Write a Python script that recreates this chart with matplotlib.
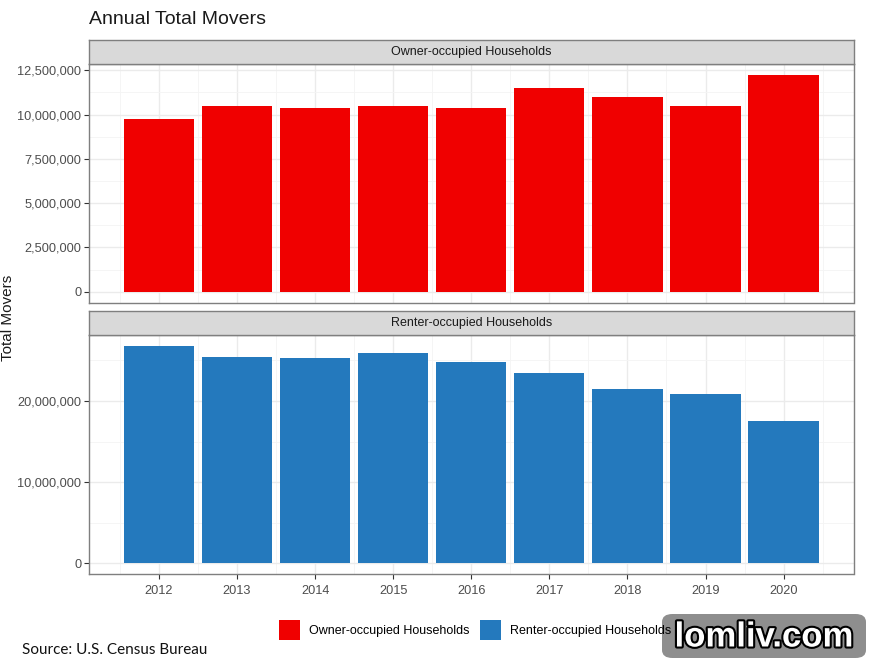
import numpy as np
import matplotlib.pyplot as plt
import matplotlib.patheffects as pe
from matplotlib.patches import Patch, FancyBboxPatch
from matplotlib.ticker import FuncFormatter, MultipleLocator

# data
years = [2012, 2013, 2014, 2015, 2016, 2017, 2018, 2019, 2020]
owner = [9750000, 10480000, 10350000, 10480000, 10350000, 11510000, 10970000, 10480000, 12240000]
renter = [26740000, 25420000, 25300000, 25840000, 24770000, 23410000, 21440000, 20860000, 17500000]
panel_titles = ["Owner-occupied Households", "Renter-occupied Households"]

red = "#F00000"
blue = "#2479BD"
grid_c = "#EBEBEB"
border_c = "#7F7F7F"
text_c = "#4D4D4D"

W, H = 872, 662
fig = plt.figure(figsize=(W / 100, H / 100), dpi=100)
plt.rcParams['font.family'] = ['Liberation Sans', 'DejaVu Sans']


def px_axes(x0, y0, x1, y1):
    # pixel box (top-left origin) -> figure axes
    return fig.add_axes([x0 / W, (H - y1) / H, (x1 - x0) / W, (y1 - y0) / H])


def strip(y0, y1, label):
    s = px_axes(89, y0, 853.5, y1)
    s.set_facecolor("#D9D9D9")
    s.set_xticks([])
    s.set_yticks([])
    for sp in s.spines.values():
        sp.set_color(border_c)
        sp.set_linewidth(1.0)
    s.text(0.5, 0.5, label, ha="center", va="center", fontsize=9, color="#1A1A1A",
           transform=s.transAxes)


def style_panel(ax, vals, major, minor, show_x):
    lo, hi = 0, max(vals)
    pad = 0.05 * (hi - lo)
    ax.set_ylim(lo - pad, hi + pad)
    ax.set_xlim(2011.55 - 0.445, 2020.45 + 0.445)
    ax.yaxis.set_major_locator(MultipleLocator(major))
    ax.yaxis.set_minor_locator(MultipleLocator(minor))
    ax.set_xticks(years)
    ax.xaxis.set_minor_locator(MultipleLocator(0.5))
    ax.yaxis.set_major_formatter(FuncFormatter(lambda v, p: f"{int(round(v)):,}"))
    ax.grid(which="major", color=grid_c, linewidth=1.0)
    ax.grid(which="minor", color="#F4F4F4", linewidth=0.6)
    ax.set_axisbelow(True)
    for sp in ax.spines.values():
        sp.set_color(border_c)
        sp.set_linewidth(1.0)
    ax.tick_params(axis="both", which="major", length=3.5, color="#333333",
                   labelsize=9.2, labelcolor=text_c, pad=2)
    ax.tick_params(axis="x", which="major", pad=4)
    ax.tick_params(axis="both", which="minor", length=0)
    if show_x:
        ax.set_xticklabels([str(y) for y in years])
    else:
        ax.tick_params(axis="x", which="major", length=0, labelbottom=False)


ax1 = px_axes(89, 64, 853.5, 302.5)
ax1.bar(years, owner, width=0.9, color=red)
style_panel(ax1, owner, 2500000, 1250000, False)
strip(40, 64, panel_titles[0])

ax2 = px_axes(89, 335.3, 853.5, 574.3)
ax2.bar(years, renter, width=0.9, color=blue)
style_panel(ax2, renter, 10000000, 5000000, True)
strip(311.5, 335.3, panel_titles[1])

fig.text(89 / W, 1 - 20 / H, "Annual Total Movers", fontsize=14, color="#1A1A1A",
         ha="left", va="center")
fig.text(8 / W, 1 - 318 / H, "Total Movers", fontsize=11, rotation=90,
         ha="center", va="center", color="#1A1A1A")

handles = [Patch(facecolor=red, label=panel_titles[0]),
           Patch(facecolor=blue, label=panel_titles[1])]
fig.legend(handles=handles, loc="center", bbox_to_anchor=(475 / W, 1 - 630 / H),
           ncol=2, frameon=False, fontsize=9, handlelength=1.7, handleheight=2.0,
           handletextpad=0.7, columnspacing=0.8)

fig.text(22 / W, 1 - 650 / H, "Source: U.S. Census Bureau", fontsize=11,
         family=["Lato", "DejaVu Sans"], ha="left", va="center", color="#111111")

# watermark box
fig.patches.append(FancyBboxPatch((662 / W, 1 - 658 / H), 204 / W, 44 / H,
                                  boxstyle="round,pad=0,rounding_size=0.012",
                                  transform=fig.transFigure, facecolor="#8E8E8E",
                                  edgecolor="none"))
fig.text(764 / W, 1 - 637 / H, "lomliv.com", fontsize=25, fontweight="bold",
         color="white", ha="center", va="center",
         path_effects=[pe.withStroke(linewidth=3, foreground="black")])

fig.savefig("out.png", dpi=100)
